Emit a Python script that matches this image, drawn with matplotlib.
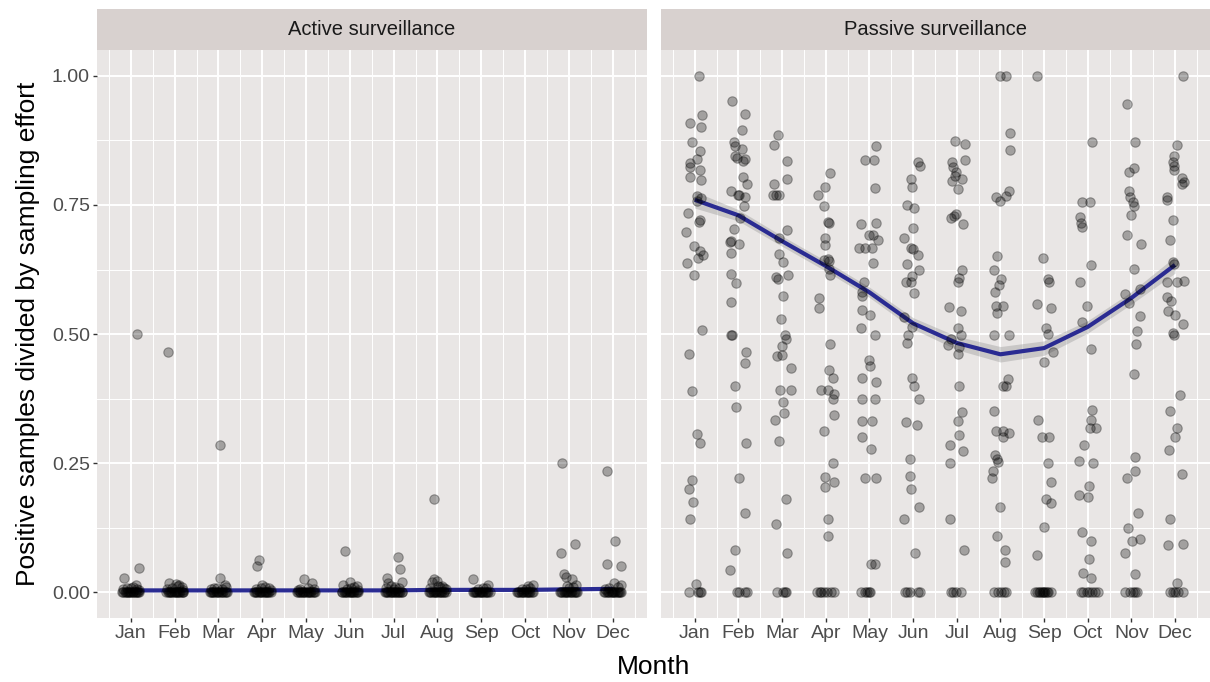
import matplotlib.pyplot as plt
import numpy as np

plt.rcParams['font.family'] = ['Liberation Sans', 'DejaVu Sans']

months = ["Jan", "Feb", "Mar", "Apr", "May", "Jun",
          "Jul", "Aug", "Sep", "Oct", "Nov", "Dec"]
panels = ["Active surveillance", "Passive surveillance"]

# points as (jitter, value) per month
passive_jan = [(0.09, 1.0), (0.17, 0.924), (-0.11, 0.909), (0.15, 0.90), (-0.07, 0.872),
               (0.11, 0.855), (0.05, 0.839), (-0.11, 0.832), (-0.11, 0.824), (0.13, 0.817),
               (-0.10, 0.805), (0.15, 0.799), (0.05, 0.767), (0.15, 0.763), (0.04, 0.758),
               (-0.16, 0.735), (0.11, 0.72), (0.10, 0.717), (-0.20, 0.698), (-0.02, 0.671),
               (0.13, 0.66), (0.07, 0.648), (0.18, 0.653), (-0.17, 0.637), (-0.02, 0.615),
               (0.17, 0.508), (-0.14, 0.461), (-0.07, 0.39), (0.04, 0.307), (0.13, 0.29),
               (-0.07, 0.217), (-0.13, 0.2), (-0.04, 0.176), (-0.11, 0.143), (0.02, 0.017),
               (-0.13, 0.0), (0.07, 0.0), (0.11, 0.0), (0.14, 0.0)]
passive_feb = [(-0.15, 0.952), (0.16, 0.927), (0.09, 0.896), (-0.11, 0.872), (-0.08, 0.865),
               (0.08, 0.858), (-0.08, 0.844), (-0.04, 0.841), (0.14, 0.839), (0.11, 0.836),
               (0.11, 0.804), (0.19, 0.791), (-0.17, 0.777), (-0.02, 0.77), (0.02, 0.769),
               (0.14, 0.765), (0.13, 0.749), (0.04, 0.725), (-0.09, 0.703), (-0.16, 0.68),
               (-0.19, 0.678), (0.02, 0.675), (-0.17, 0.657), (-0.16, 0.617), (-0.06, 0.599),
               (-0.17, 0.562), (-0.14, 0.499), (-0.17, 0.499), (0.18, 0.465), (0.16, 0.444),
               (-0.08, 0.399), (-0.05, 0.359), (0.18, 0.29), (0.02, 0.222), (0.15, 0.153),
               (-0.07, 0.083), (-0.20, 0.044),
               (-0.04, 0.0), (0.01, 0.0), (0.15, 0.0), (0.19, 0.0)]
passive_mar = [(-0.10, 0.885), (-0.19, 0.867), (0.11, 0.835), (0.12, 0.80), (-0.19, 0.791),
               (-0.20, 0.77), (-0.14, 0.77), (-0.08, 0.769), (0.11, 0.701), (-0.08, 0.687),
               (-0.07, 0.655), (0.02, 0.64), (0.13, 0.615), (-0.13, 0.611), (-0.10, 0.606),
               (0.01, 0.573), (-0.02, 0.53), (0.07, 0.499), (0.10, 0.49), (0.0, 0.477),
               (-0.11, 0.457), (-0.01, 0.46), (0.20, 0.434), (-0.04, 0.392), (0.20, 0.392),
               (0.02, 0.369), (0.05, 0.347), (-0.17, 0.333), (-0.07, 0.294), (0.10, 0.181),
               (-0.13, 0.133), (0.11, 0.077),
               (-0.11, 0.0), (0.02, 0.0), (0.06, 0.0), (0.10, 0.0)]
passive_apr = [(0.10, 0.811), (-0.02, 0.784), (-0.17, 0.769), (-0.03, 0.749), (0.05, 0.718),
               (0.08, 0.716), (-0.02, 0.687), (-0.01, 0.673), (-0.05, 0.644), (0.05, 0.645),
               (0.08, 0.641), (0.08, 0.627), (0.10, 0.615), (-0.16, 0.57), (-0.16, 0.55),
               (0.09, 0.48), (0.08, 0.43), (0.16, 0.416), (-0.11, 0.392), (0.05, 0.392),
               (0.20, 0.385), (0.16, 0.374), (0.20, 0.343), (-0.05, 0.312), (0.16, 0.25),
               (-0.02, 0.224), (0.19, 0.213), (-0.02, 0.205), (0.06, 0.143), (0.05, 0.11),
               (-0.20, 0.0), (-0.14, 0.0), (-0.10, 0.0), (-0.05, 0.0), (0.02, 0.0),
               (0.11, 0.0), (0.20, 0.0)]
passive_may = [(0.16, 0.865), (-0.10, 0.838), (0.10, 0.837), (0.13, 0.783), (-0.19, 0.713),
               (0.15, 0.715), (-0.02, 0.692), (0.08, 0.692), (0.19, 0.682), (-0.23, 0.666),
               (-0.11, 0.666), (0.05, 0.666), (0.08, 0.637), (-0.12, 0.60), (-0.17, 0.581),
               (-0.17, 0.573), (-0.17, 0.547), (0.01, 0.537), (-0.20, 0.511), (0.12, 0.499),
               (-0.01, 0.449), (0.02, 0.439), (-0.17, 0.416), (0.14, 0.407), (-0.17, 0.374),
               (0.12, 0.374), (-0.17, 0.331), (0.05, 0.331), (-0.17, 0.30), (0.03, 0.278),
               (-0.10, 0.222), (0.16, 0.222), (0.03, 0.055), (0.13, 0.055),
               (-0.19, 0.0), (-0.11, 0.0), (-0.06, 0.0), (-0.02, 0.0), (0.02, 0.0)]
passive_jun = [(0.11, 0.833), (0.17, 0.826), (-0.04, 0.80), (-0.02, 0.785), (-0.15, 0.75),
               (0.03, 0.744), (0.0, 0.706), (-0.20, 0.686), (-0.05, 0.666), (0.01, 0.665),
               (0.12, 0.654), (-0.15, 0.635), (0.14, 0.624), (-0.03, 0.613), (-0.17, 0.60),
               (-0.05, 0.60), (0.02, 0.579), (-0.20, 0.533), (-0.02, 0.513), (-0.11, 0.499),
               (-0.13, 0.483), (-0.02, 0.416), (0.03, 0.399), (0.14, 0.374), (-0.17, 0.329),
               (0.08, 0.325), (-0.06, 0.258), (-0.08, 0.226), (-0.04, 0.20), (0.14, 0.166),
               (-0.20, 0.143), (0.05, 0.076),
               (-0.19, 0.0), (-0.13, 0.0), (-0.08, 0.0), (0.11, 0.0), (0.17, 0.0)]
passive_jul = [(-0.04, 0.874), (0.19, 0.869), (0.19, 0.838), (-0.11, 0.834), (-0.09, 0.824),
               (-0.02, 0.813), (-0.05, 0.807), (0.11, 0.80), (-0.10, 0.796), (0.02, 0.78),
               (-0.02, 0.732), (-0.07, 0.729), (-0.14, 0.724), (0.14, 0.713), (0.12, 0.624),
               (0.02, 0.601), (0.06, 0.609), (-0.17, 0.552), (0.10, 0.544), (0.03, 0.511),
               (0.10, 0.499), (-0.12, 0.49), (-0.19, 0.479), (0.05, 0.475), (0.02, 0.461),
               (0.06, 0.399), (0.12, 0.349), (0.02, 0.331), (0.05, 0.304), (-0.16, 0.285),
               (0.14, 0.273), (-0.15, 0.25), (-0.15, 0.143), (0.17, 0.083),
               (-0.13, 0.0), (-0.08, 0.0), (-0.02, 0.0), (0.10, 0.0)]
passive_aug = [(-0.01, 1.0), (0.14, 1.0), (0.21, 0.889), (0.21, 0.856), (0.19, 0.777),
               (-0.10, 0.765), (-0.01, 0.758), (0.13, 0.768), (-0.08, 0.651), (-0.14, 0.624),
               (0.02, 0.606), (-0.02, 0.596), (-0.13, 0.582), (0.05, 0.555), (-0.10, 0.555),
               (-0.08, 0.541), (-0.15, 0.499), (0.19, 0.499), (0.18, 0.414), (0.07, 0.399),
               (0.13, 0.399), (-0.15, 0.352), (-0.11, 0.313), (0.07, 0.313), (0.20, 0.309),
               (0.07, 0.30), (-0.13, 0.266), (-0.08, 0.259), (-0.06, 0.252), (-0.17, 0.236),
               (-0.19, 0.222), (0.0, 0.166), (-0.08, 0.11), (0.11, 0.083), (0.11, 0.059),
               (-0.14, 0.0), (-0.06, 0.0), (0.02, 0.0), (0.09, 0.0), (0.13, 0.0)]
passive_sep = [(-0.17, 1.0), (-0.02, 0.648), (0.10, 0.606), (0.11, 0.601), (-0.16, 0.559),
               (0.15, 0.551), (0.05, 0.511), (0.08, 0.501), (0.20, 0.466), (0.0, 0.447),
               (-0.13, 0.333), (-0.04, 0.30), (0.11, 0.30), (0.10, 0.25), (0.15, 0.213),
               (0.05, 0.181), (0.17, 0.173), (0.0, 0.126), (-0.15, 0.072),
               (-0.20, 0.0), (-0.15, 0.0), (-0.12, 0.0), (-0.09, 0.0), (-0.05, 0.0),
               (-0.02, 0.0), (0.0, 0.0), (0.03, 0.0), (0.06, 0.0), (0.10, 0.0), (0.15, 0.0)]
passive_oct = [(0.11, 0.872), (-0.12, 0.756), (0.05, 0.755), (-0.17, 0.727), (-0.15, 0.715),
               (-0.14, 0.708), (0.08, 0.633), (-0.17, 0.60), (-0.02, 0.555), (-0.12, 0.523),
               (0.07, 0.471), (0.11, 0.354), (0.08, 0.333), (0.05, 0.319), (0.18, 0.318),
               (-0.09, 0.285), (-0.20, 0.254), (0.12, 0.25), (0.04, 0.206), (-0.19, 0.188),
               (0.0, 0.185), (-0.12, 0.117), (0.07, 0.099), (0.02, 0.064), (-0.11, 0.038),
               (0.08, 0.028),
               (-0.15, 0.0), (-0.10, 0.0), (-0.02, 0.0), (0.04, 0.0), (0.09, 0.0),
               (0.17, 0.0), (0.23, 0.0)]
passive_nov = [(-0.10, 0.945), (0.08, 0.872), (-0.05, 0.814), (0.06, 0.822), (-0.06, 0.777),
               (-0.02, 0.765), (0.03, 0.756), (0.07, 0.749), (-0.01, 0.73), (-0.10, 0.692),
               (0.21, 0.675), (0.07, 0.626), (-0.14, 0.578), (-0.06, 0.561), (0.19, 0.587),
               (0.20, 0.535), (0.12, 0.506), (0.11, 0.48), (0.06, 0.423), (0.08, 0.262),
               (0.08, 0.235), (-0.09, 0.222), (0.16, 0.153), (-0.07, 0.124), (0.02, 0.099),
               (0.19, 0.104), (-0.15, 0.077), (0.08, 0.036),
               (-0.15, 0.0), (-0.03, 0.0), (0.03, 0.0), (0.09, 0.0), (0.14, 0.0)]
passive_dec = [(0.19, 1.0), (0.05, 0.867), (-0.02, 0.845), (-0.05, 0.834), (-0.03, 0.825),
               (-0.02, 0.817), (0.15, 0.802), (0.21, 0.794), (0.17, 0.791), (-0.18, 0.765),
               (-0.18, 0.76), (-0.05, 0.72), (-0.11, 0.682), (-0.05, 0.639), (-0.03, 0.635),
               (-0.19, 0.60), (0.04, 0.60), (0.20, 0.602), (-0.18, 0.572), (-0.09, 0.564),
               (-0.15, 0.544), (0.0, 0.537), (0.19, 0.52), (-0.05, 0.502), (-0.03, 0.499),
               (0.11, 0.383), (-0.12, 0.352), (0.05, 0.318), (0.0, 0.30), (-0.14, 0.276),
               (0.17, 0.23), (-0.12, 0.143), (-0.17, 0.091), (0.18, 0.093), (0.04, 0.019),
               (-0.11, 0.0), (-0.05, 0.0), (0.0, 0.0), (0.06, 0.0), (0.19, 0.0)]

active_jan = [(0.15, 0.5), (0.18, 0.048), (-0.15, 0.028), (0.11, 0.015), (0.06, 0.011),
              (-0.08, 0.008), (0.13, 0.006), (-0.17, 0.007), (0.01, 0.009), (0.19, 0.004)]
active_feb = [(-0.15, 0.466), (0.02, 0.017), (-0.13, 0.018), (0.11, 0.015), (0.16, 0.010),
              (-0.05, 0.008), (-0.18, 0.006), (0.07, 0.012), (0.19, 0.005)]
active_mar = [(0.03, 0.285), (0.03, 0.028), (0.15, 0.015), (-0.10, 0.009), (0.08, 0.007),
              (-0.17, 0.006), (0.18, 0.010), (-0.03, 0.008)]
active_apr = [(-0.07, 0.063), (-0.11, 0.052), (0.0, 0.015), (0.07, 0.010), (-0.14, 0.007),
              (0.15, 0.009), (-0.04, 0.008), (0.19, 0.005)]
active_may = [(-0.04, 0.026), (0.13, 0.018), (0.05, 0.008), (-0.13, 0.006), (0.17, 0.007),
              (-0.18, 0.005)]
active_jun = [(-0.12, 0.081), (0.0, 0.021), (-0.16, 0.015), (0.10, 0.010), (0.03, 0.008),
              (0.16, 0.012), (-0.07, 0.007), (0.19, 0.005)]
active_jul = [(0.10, 0.068), (0.15, 0.046), (-0.15, 0.028), (0.20, 0.02), (-0.12, 0.018),
              (0.04, 0.011), (-0.06, 0.013), (-0.18, 0.008), (0.12, 0.009), (0.0, 0.007)]
active_aug = [(-0.09, 0.18), (-0.09, 0.026), (-0.01, 0.022), (-0.12, 0.02), (0.10, 0.012),
              (0.05, 0.010), (0.15, 0.008), (-0.17, 0.009), (0.02, 0.013), (0.19, 0.006)]
active_sep = [(-0.20, 0.026), (0.16, 0.015), (0.05, 0.008), (-0.07, 0.006), (0.11, 0.009)]
active_oct = [(0.17, 0.014), (0.07, 0.012), (0.12, 0.008), (-0.08, 0.006), (0.02, 0.007)]
active_nov = [(-0.16, 0.25), (-0.17, 0.076), (0.15, 0.094), (-0.12, 0.036), (-0.07, 0.029),
              (0.07, 0.026), (0.16, 0.015), (0.10, 0.010), (-0.04, 0.012), (0.01, 0.008)]
active_dec = [(-0.14, 0.235), (0.06, 0.099), (-0.12, 0.055), (0.19, 0.052), (0.04, 0.019),
              (0.20, 0.015), (-0.08, 0.009), (0.12, 0.010), (-0.18, 0.007)]

# jitter of the zero-valued active samples, per month
active_zero_jan = [-0.20, -0.17, -0.14, -0.12, -0.09, -0.06, -0.04, -0.01, 0.01, 0.04, 0.06,
                   0.09, 0.12, 0.14, 0.17, 0.19]
active_zero_feb = [-0.19, -0.16, -0.14, -0.11, -0.08, -0.05, -0.02, 0.0, 0.03, 0.05, 0.08,
                   0.10, 0.13, 0.16, 0.18, 0.20]
active_zero_mar = [-0.20, -0.18, -0.15, -0.12, -0.10, -0.06, -0.03, 0.0, 0.02, 0.05, 0.08,
                   0.11, 0.14, 0.17, 0.19]
active_zero_apr = [-0.19, -0.17, -0.14, -0.11, -0.08, -0.05, -0.03, 0.0, 0.03, 0.06, 0.08,
                   0.11, 0.13, 0.16, 0.19]
active_zero_may = [-0.20, -0.18, -0.15, -0.13, -0.10, -0.07, -0.04, -0.02, 0.01, 0.04, 0.07,
                   0.09, 0.12, 0.15, 0.18, 0.20]
active_zero_jun = [-0.19, -0.17, -0.14, -0.11, -0.09, -0.06, -0.03, 0.0, 0.02, 0.05, 0.07,
                   0.10, 0.13, 0.16, 0.18]
active_zero_jul = [-0.20, -0.17, -0.15, -0.12, -0.09, -0.07, -0.04, -0.01, 0.02, 0.04, 0.07,
                   0.10, 0.12, 0.15, 0.18, 0.20]
active_zero_aug = [-0.19, -0.16, -0.14, -0.11, -0.08, -0.06, -0.03, 0.0, 0.03, 0.06, 0.08,
                   0.11, 0.14, 0.16, 0.19]
active_zero_sep = [-0.20, -0.17, -0.14, -0.11, -0.09, -0.06, -0.03, 0.0, 0.02, 0.05, 0.08,
                   0.10, 0.13, 0.16, 0.19]
active_zero_oct = [-0.19, -0.16, -0.13, -0.10, -0.07, -0.04, -0.02, 0.01, 0.04, 0.07, 0.09,
                   0.12, 0.15, 0.18]
active_zero_nov = [-0.20, -0.17, -0.15, -0.12, -0.10, -0.07, -0.04, -0.01, 0.02, 0.05, 0.08,
                   0.11, 0.13, 0.16, 0.19]
active_zero_dec = [-0.19, -0.17, -0.14, -0.11, -0.08, -0.05, -0.02, 0.0, 0.03, 0.06, 0.09,
                   0.11, 0.14, 0.17, 0.20]

# loess fit per month and its standard-error half width
active_fit = [0.004, 0.004, 0.004, 0.004, 0.004, 0.004, 0.004, 0.005, 0.005, 0.005, 0.006, 0.007]
active_se = [0.003, 0.002, 0.002, 0.002, 0.002, 0.002, 0.002, 0.002, 0.002, 0.002, 0.002, 0.003]
passive_fit = [0.76, 0.73, 0.68, 0.632, 0.581, 0.521, 0.483, 0.461, 0.473, 0.514, 0.57, 0.634]
passive_se = [0.016, 0.011, 0.010, 0.010, 0.010, 0.011, 0.013, 0.015, 0.014, 0.012, 0.012, 0.016]

active_points = [active_jan, active_feb, active_mar, active_apr, active_may, active_jun,
                 active_jul, active_aug, active_sep, active_oct, active_nov, active_dec]
active_zeros = [active_zero_jan, active_zero_feb, active_zero_mar, active_zero_apr,
                active_zero_may, active_zero_jun, active_zero_jul, active_zero_aug,
                active_zero_sep, active_zero_oct, active_zero_nov, active_zero_dec]
passive_points = [passive_jan, passive_feb, passive_mar, passive_apr, passive_may, passive_jun,
                  passive_jul, passive_aug, passive_sep, passive_oct, passive_nov, passive_dec]


def to_xy(month_lists, zero_lists=None):
    xs, ys = [], []
    for m, pts in enumerate(month_lists, start=1):
        for off, val in pts:
            xs.append(m + off)
            ys.append(val)
        if zero_lists is not None:
            for off in zero_lists[m - 1]:
                xs.append(m + off)
                ys.append(0.0)
    return np.array(xs), np.array(ys)


panel_bg = '#E9E6E5'
strip_bg = '#D8D1CF'
line_col = '#2A2B92'
month_num = np.arange(1, 13)

fig = plt.figure(figsize=(12.1, 6.82), dpi=100)
W, H = 1210.0, 682.0
top, bottom = 50.0, 618.3
lefts = [96.7, 660.7]
rights = [647.3, 1209.5]

data = [(to_xy(active_points, active_zeros), active_fit, active_se),
        (to_xy(passive_points), passive_fit, passive_se)]

for i in range(2):
    l, r = lefts[i], rights[i]
    ax = fig.add_axes([l / W, 1 - bottom / H, (r - l) / W, (bottom - top) / H])
    ax.set_facecolor(panel_bg)
    for s in ax.spines.values():
        s.set_visible(False)
    ax.set_xlim(0.22, 12.79)
    ax.set_ylim(-0.05, 1.05)
    ax.set_xticks(month_num)
    ax.set_xticklabels(months)
    ax.set_xticks(np.arange(0.5, 13, 1), minor=True)
    ax.set_yticks([0, 0.25, 0.5, 0.75, 1.0])
    ax.set_yticks([0.125, 0.375, 0.625, 0.875], minor=True)
    ax.set_yticklabels(['0.00', '0.25', '0.50', '0.75', '1.00'])
    ax.grid(which='major', color='white', lw=1.4)
    ax.grid(which='minor', color='white', lw=0.7)
    ax.set_axisbelow(True)
    ax.tick_params(which='minor', length=0)
    ax.tick_params(which='major', length=3, width=1, color='#333333',
                   labelcolor='#4D4D4D', labelsize=14, pad=2)
    if i == 1:
        ax.tick_params(axis='y', left=False, labelleft=False)

    (xs, ys), fit, se = data[i]
    fit = np.array(fit)
    se = np.array(se)
    ax.fill_between(month_num, fit - se, fit + se, color='#999999', alpha=0.4, lw=0, zorder=3)
    ax.plot(month_num, fit, color=line_col, lw=3.0, zorder=4, solid_capstyle='butt')
    ax.scatter(xs, ys, s=46, facecolor=(0, 0, 0, 0.3), edgecolor=(0, 0, 0, 0.32),
               linewidths=0.8, zorder=5)

    # facet strip
    sax = fig.add_axes([l / W, 1 - top / H, (r - l) / W, 41 / H])
    sax.set_facecolor(strip_bg)
    sax.set_xticks([])
    sax.set_yticks([])
    for s in sax.spines.values():
        s.set_visible(False)
    sax.text(0.5, 0.5, panels[i], ha='center', va='center', fontsize=14.5,
             color='#1A1A1A', transform=sax.transAxes)

fig.text((96.7 + 1209.5) / 2 / W, 1 - 667 / H, 'Month', ha='center', va='center',
         fontsize=19, color='black')
fig.text(28 / W, 1 - (top + bottom) / 2 / H, 'Positive samples divided by sampling effort',
         ha='center', va='center', rotation=90, fontsize=19, color='black')

fig.savefig('out.png', dpi=100)
